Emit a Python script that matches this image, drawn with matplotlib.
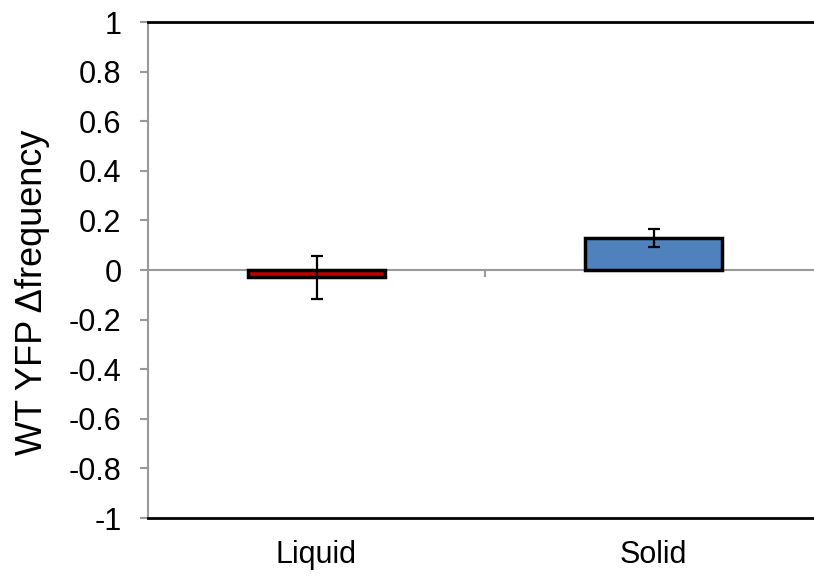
import numpy as np
import matplotlib
matplotlib.use('Agg')
import matplotlib.pyplot as plt

# values
conditions = ['Liquid', 'Solid']
delta_freq = [-0.03, 0.13]
err = [0.085, 0.037]
bar_colors = ['#C00000', '#4F81BD']
yticks = [-1, -0.8, -0.6, -0.4, -0.2, 0, 0.2, 0.4, 0.6, 0.8, 1]

plt.rcParams['font.family'] = ['Liberation Sans', 'DejaVu Sans']

fig = plt.figure(figsize=(8.14, 5.77), dpi=100)
ax = fig.add_axes([148/814, 1 - 518/577, 674/814, 496/577])

x = np.arange(len(conditions))
ax.bar(x, delta_freq, width=0.405, color=bar_colors, edgecolor='black',
       linewidth=2.5, zorder=3)
ax.errorbar(x, delta_freq, yerr=err, fmt='none', ecolor='black',
            elinewidth=1.6, capsize=4.5, capthick=1.6, zorder=4)

ax.axhline(0, color='#999999', linewidth=1.5, zorder=2)
# category separator tick on the zero line
ax.vlines([0.5], -0.03, 0, color='#999999', linewidth=1.5, zorder=2)

ax.set_xlim(-0.5, 1.5)
ax.set_ylim(-1, 1)
ax.set_yticks(yticks)
ax.set_yticklabels(['%g' % t for t in yticks], fontsize=22)
ax.set_xticks(x)
ax.set_xticklabels(conditions, fontsize=22)
ax.tick_params(axis='x', length=0, pad=16)
ax.tick_params(axis='y', length=6, width=1.5, color='#999999', pad=13)

ax.spines['right'].set_visible(False)
ax.spines['left'].set_color('#999999')
ax.spines['left'].set_linewidth(1.5)
ax.spines['top'].set_color('black')
ax.spines['top'].set_linewidth(2)
ax.spines['bottom'].set_color('black')
ax.spines['bottom'].set_linewidth(2)

ax.set_ylabel('WT YFP \u0394frequency', fontsize=26)
ax.yaxis.set_label_coords(-0.145, 0.455)

fig.savefig('out.png', dpi=100)
